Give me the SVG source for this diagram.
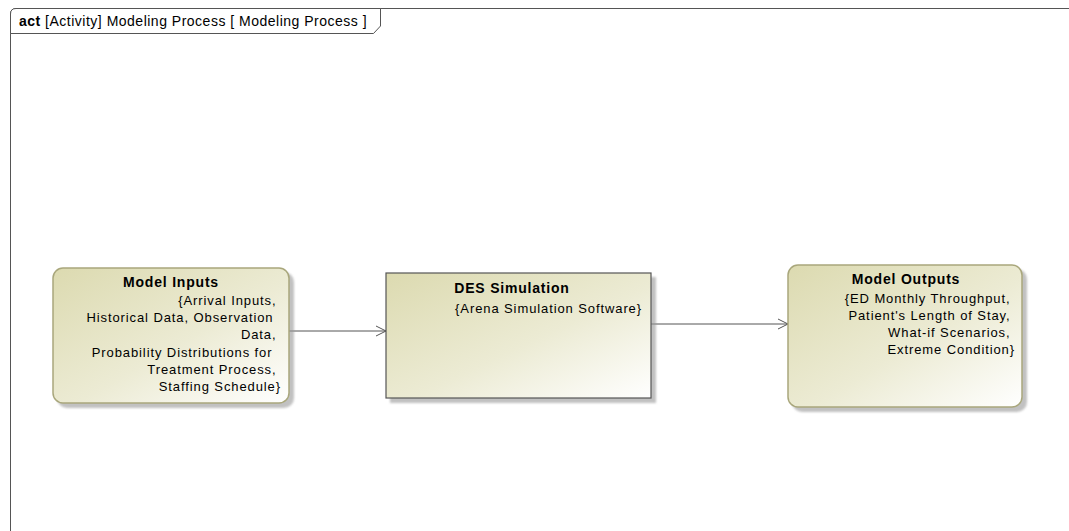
<svg xmlns="http://www.w3.org/2000/svg" width="1069" height="531" viewBox="0 0 1069 531">
  <style>
    .frame { fill: none; stroke: #555; stroke-width: 1; }
    .tab { fill: #fff; stroke: #555; stroke-width: 1; }
    .node { fill: url(#nodeFill); stroke: #a9a77c; stroke-width: 1.5; }
    .box { fill: url(#nodeFill); stroke: #555; stroke-width: 1.2; }
    .shadow { fill: #999; opacity: 0.6; filter: url(#soft); }
    .title { font-family: "Liberation Sans", Arial, sans-serif; font-size: 14px; font-weight: bold; letter-spacing: 0.8px; fill: #000; text-anchor: middle; }
    .body { font-family: "Liberation Sans", Arial, sans-serif; font-size: 13px; letter-spacing: 0.9px; fill: #000; text-anchor: end; }
    .head { font-family: "Liberation Sans", Arial, sans-serif; font-size: 14px; letter-spacing: 0.5px; fill: #000; }
    .edge { fill: none; stroke: #555; stroke-width: 1; marker-end: url(#open); }
  </style>
  <defs>
    <linearGradient id="nodeFill" x1="0" y1="0" x2="1" y2="1">
      <stop offset="0" stop-color="#dcdab0"/>
      <stop offset="0.55" stop-color="#ecebd4"/>
      <stop offset="1" stop-color="#ffffff"/>
    </linearGradient>
    <filter id="soft" x="-10%" y="-10%" width="120%" height="120%">
      <feGaussianBlur stdDeviation="1.2"/>
    </filter>
    <marker id="open" markerWidth="12" markerHeight="12" refX="11" refY="6" orient="auto" markerUnits="userSpaceOnUse">
      <path d="M1,1 L11,6 L1,11" fill="none" stroke="#555" stroke-width="1"/>
    </marker>
  </defs>

  <rect width="1069" height="531" fill="#fff"/>

  <!-- activity frame -->
  <g id="frame">
    <path class="frame" d="M10.5,531 V14 Q10.5,8.5 16,8.5 H1069"/>
    <path class="tab" d="M10.5,33.5 V14 Q10.5,8.5 16,8.5 H380.5 V26 L373.5,33.5 Z"/>
    <text class="head" x="19" y="26"><tspan font-weight="bold">act</tspan> [Activity] Modeling Process [ Modeling Process ]</text>
  </g>

  <!-- connectors -->
  <g id="connectors">
    <path class="edge" d="M289,331 H386"/>
    <path class="edge" d="M651,324 H788"/>
  </g>

  <!-- Model Inputs -->
  <g id="model-inputs">
    <rect class="shadow" x="57" y="272" width="237" height="136" rx="10"/>
    <rect class="node" x="53" y="268" width="236" height="135" rx="10"/>
    <text class="title" x="171" y="287">Model Inputs</text>
    <text class="body">
      <tspan x="281" y="305">{Arrival Inputs,</tspan>
      <tspan x="278" y="322">Historical Data, Observation</tspan>
      <tspan x="281" y="339">Data,</tspan>
      <tspan x="277" y="357">Probability Distributions for</tspan>
      <tspan x="281" y="374">Treatment Process,</tspan>
      <tspan x="281" y="391">Staffing Schedule}</tspan>
    </text>
  </g>

  <!-- DES Simulation -->
  <g id="des-simulation">
    <rect class="shadow" x="390" y="277" width="266" height="126"/>
    <rect class="box" x="386" y="273" width="265" height="125"/>
    <text class="title" x="512" y="293">DES Simulation</text>
    <text class="body" x="642" y="313">{Arena Simulation Software}</text>
  </g>

  <!-- Model Outputs -->
  <g id="model-outputs">
    <rect class="shadow" x="792" y="269" width="235" height="143" rx="10"/>
    <rect class="node" x="788" y="265" width="234" height="142" rx="10"/>
    <text class="title" x="906" y="284">Model Outputs</text>
    <text class="body">
      <tspan x="1015" y="303">{ED Monthly Throughput,</tspan>
      <tspan x="1015" y="320">Patient's Length of Stay,</tspan>
      <tspan x="1015" y="337">What-if Scenarios,</tspan>
      <tspan x="1015" y="354">Extreme Condition}</tspan>
    </text>
  </g>
</svg>
